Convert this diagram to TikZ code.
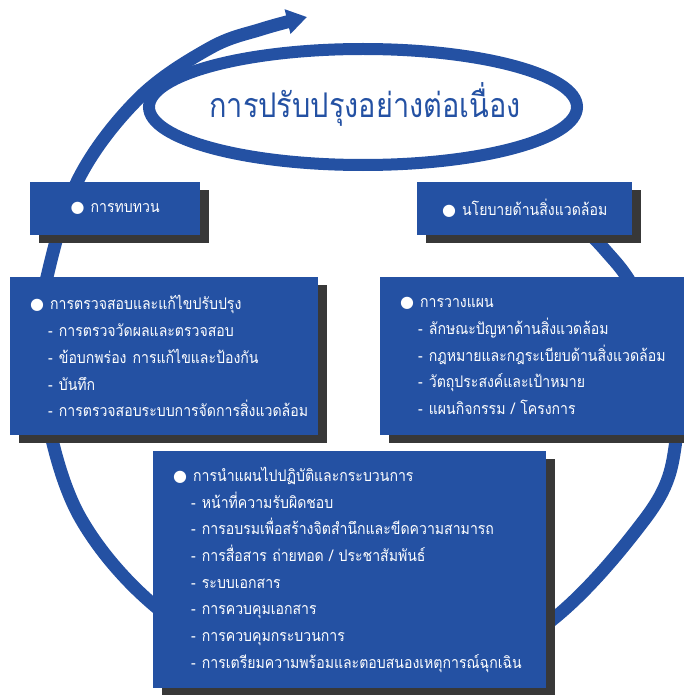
\documentclass[tikz,border=0pt]{standalone}
\usepackage{fontspec}
\usetikzlibrary{arrows.meta,shadows}
\newfontfamily\thaifont[Script=Thai, FakeStretch=0.88]{Loma}
\newfontfamily\titlefont[Script=Thai, FakeStretch=0.85]{Loma}
\newfontfamily\symfont{DejaVu Sans}
\definecolor{cycleblue}{RGB}{36,81,163}
\definecolor{shadowgray}{RGB}{56,56,56}
\newcommand{\bul}[1]{\mbox{{\symfont ●}\hspace{6pt}#1}}
\newcommand{\itm}[1]{\mbox{\hspace{18pt}-\hspace{6pt}#1}}

\begin{document}
\begin{tikzpicture}[x=1pt, y=-1pt,
	loopline/.style={draw=cycleblue, line width=13pt},
	box/.style={fill=cycleblue, text=white, anchor=north west, inner xsep=20pt, inner ysep=0pt,
		font=\thaifont\fontsize{16}{26.7}\selectfont,
		drop shadow={shadow xshift=9pt, shadow yshift=-8pt, fill=shadowgray, opacity=1}}]
	\useasboundingbox (0,0) rectangle (684,695);
	\draw[loopline, -{Triangle[length=20pt,width=24pt]}] plot[smooth, tension=0.6] coordinates {(578,222) (605,250) (632,285) (668,356) (676,440) (645,519) (526,638) (363,682) (200,638) (81,519) (37,356) (47,277) (79,178) (139,98) (210,48) (262,29) (307,17)};
	\draw[loopline, line width=12pt] (363,107) ellipse [x radius=214, y radius=58];
	\node[text=cycleblue, font=\titlefont\fontsize{34}{34}\selectfont] (title) at (365,104) {การปรับปรุงอย่างต่อเนื่อง};
	\node[box, minimum width=170pt, minimum height=53pt, align=center] (review) at (30,182) {\bul{การทบทวน}};
	\node[box, minimum width=215pt, minimum height=53pt, align=center] (policy) at (417,182) {\bul{นโยบายด้านสิ่งแวดล้อม}};
	\node[box, text width=268pt, minimum height=158pt, align=left] (check) at (10,277) {\bul{การตรวจสอบและแก้ไขปรับปรุง}\\
		\itm{การตรวจวัดผลและตรวจสอบ}\\
		\itm{ข้อบกพร่อง\hspace{6pt}การแก้ไขและป้องกัน}\\
		\itm{บันทึก}\\
		\itm{การตรวจสอบระบบการจัดการสิ่งแวดล้อม}};
	\node[box, text width=264pt, minimum height=158pt, align=left] (plan) at (380,277) {\bul{การวางแผน}\\
		\itm{ลักษณะปัญหาด้านสิ่งแวดล้อม}\\
		\itm{กฎหมายและกฎระเบียบด้านสิ่งแวดล้อม}\\
		\itm{วัตถุประสงค์และเป้าหมาย}\\
		\itm{แผนกิจกรรม / โครงการ}};
	\node[box, text width=353pt, minimum height=237pt, align=left] (impl) at (153,451) {\bul{การนำแผนไปปฏิบัติและกระบวนการ}\\
		\itm{หน้าที่ความรับผิดชอบ}\\
		\itm{การอบรมเพื่อสร้างจิตสำนึกและขีดความสามารถ}\\
		\itm{การสื่อสาร ถ่ายทอด / ประชาสัมพันธ์}\\
		\itm{ระบบเอกสาร}\\
		\itm{การควบคุมเอกสาร}\\
		\itm{การควบคุมกระบวนการ}\\
		\itm{การเตรียมความพร้อมและตอบสนองเหตุการณ์ฉุกเฉิน}};
\end{tikzpicture}
\end{document}
